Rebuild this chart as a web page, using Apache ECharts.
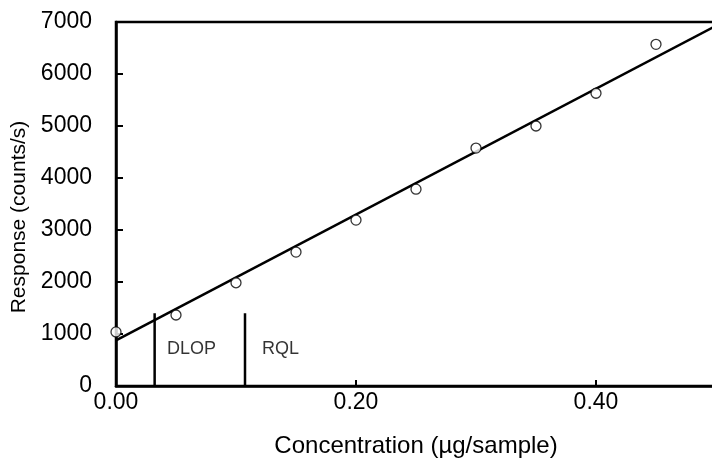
<!DOCTYPE html>
<html>
<head>
<meta charset="utf-8">
<script src="https://cdn.jsdelivr.net/npm/echarts@6/dist/echarts.min.js"></script>
<style>
html,body{margin:0;padding:0;background:#fff;}
#chart{width:712px;height:461px;}
</style>
</head>
<body>
<div id="chart"></div>
<script>
// Calibration data (concentration in µg/sample, response in counts/s)
var concentration = [0.00, 0.05, 0.10, 0.15, 0.20, 0.25, 0.30, 0.35, 0.40, 0.45];
var response = [1040, 1365, 1985, 2575, 3190, 3785, 4575, 5000, 5630, 6570];

// Regression line endpoints
var fitX = [0.0, 0.5];
var fitY = [877, 6929];

// Limit markers
var limitNames = ['DLOP', 'RQL'];
var limitX = [0.0322, 0.1075];
var limitTop = 1400;
var limitLabelX = [0.0425, 0.1217];
var limitLabelY = 711;

// Axis settings
var xTicks = [0.00, 0.20, 0.40];
var yMin = 0, yMax = 7000, yStep = 1000;
var xMin = 0, xMax = 0.5, xStep = 0.2;

var font = 'Liberation Sans, Arial, sans-serif';

var series = [];
series.push({
  type: 'line',
  data: fitX.map(function (x, i) { return [x, fitY[i]]; }),
  symbol: 'none',
  lineStyle: { color: '#000', width: 2.5 },
  z: 3,
  silent: true
});
limitX.forEach(function (x) {
  series.push({
    type: 'line',
    data: [[x, 0], [x, limitTop]],
    symbol: 'none',
    lineStyle: { color: '#000', width: 2.5 },
    z: 3,
    silent: true
  });
});
series.push({
  type: 'scatter',
  data: concentration.map(function (x, i) { return [x, response[i]]; }),
  symbol: 'circle',
  symbolSize: 10,
  itemStyle: { color: '#fff', borderColor: '#000', borderWidth: 1.3 },
  z: 4
});
series.push({
  type: 'scatter',
  data: limitLabelX.map(function (x, i) { return { value: [x, limitLabelY], name: limitNames[i] }; }),
  symbolSize: 0,
  label: {
    show: true,
    position: 'inside',
    align: 'left',
    verticalAlign: 'middle',
    formatter: function (p) { return p.name; },
    color: '#000',
    fontSize: 18,
    fontFamily: font
  },
  z: 5,
  silent: true
});

var chart = echarts.init(document.getElementById('chart'), null, { renderer: 'canvas' });
chart.setOption({
  animation: false,
  backgroundColor: '#fff',
  grid: {
    left: 116, top: 22, right: -4, bottom: 75,
    containLabel: false,
    outerBoundsMode: 'none',
    show: true, borderColor: '#000', borderWidth: 2.5, backgroundColor: 'transparent'
  },
  xAxis: {
    type: 'value',
    min: xMin, max: xMax, interval: xStep,
    name: 'Concentration (µg/sample)',
    nameLocation: 'middle',
    nameGap: 48,
    nameTextStyle: { color: '#000', fontSize: 24, fontFamily: font },
    axisLine: { show: true, onZero: false, lineStyle: { color: '#000', width: 2.5 } },
    axisTick: { show: true, inside: true, length: 6, lineStyle: { color: '#000', width: 2 } },
    splitLine: { show: false },
    axisLabel: {
      color: '#000', fontSize: 23, fontFamily: font, margin: 5,
      showMaxLabel: false,
      formatter: function (v) {
        for (var i = 0; i < xTicks.length; i++) {
          if (Math.abs(v - xTicks[i]) < 1e-9) return xTicks[i].toFixed(2);
        }
        return '';
      }
    }
  },
  yAxis: {
    type: 'value',
    min: yMin, max: yMax, interval: yStep,
    name: 'Response (counts/s)',
    nameLocation: 'middle',
    nameGap: 86,
    nameTextStyle: { color: '#000', fontSize: 21, fontFamily: font, padding: [0, 26, 0, 0] },
    axisLine: { show: true, onZero: false, lineStyle: { color: '#000', width: 2.5 } },
    axisTick: { show: true, inside: true, length: 7, lineStyle: { color: '#000', width: 2 } },
    splitLine: { show: false },
    axisLabel: {
      color: '#000', fontSize: 23, fontFamily: font, margin: 24,
      formatter: function (v) { return String(v); }
    }
  },
  series: series
});
</script>
</body>
</html>
